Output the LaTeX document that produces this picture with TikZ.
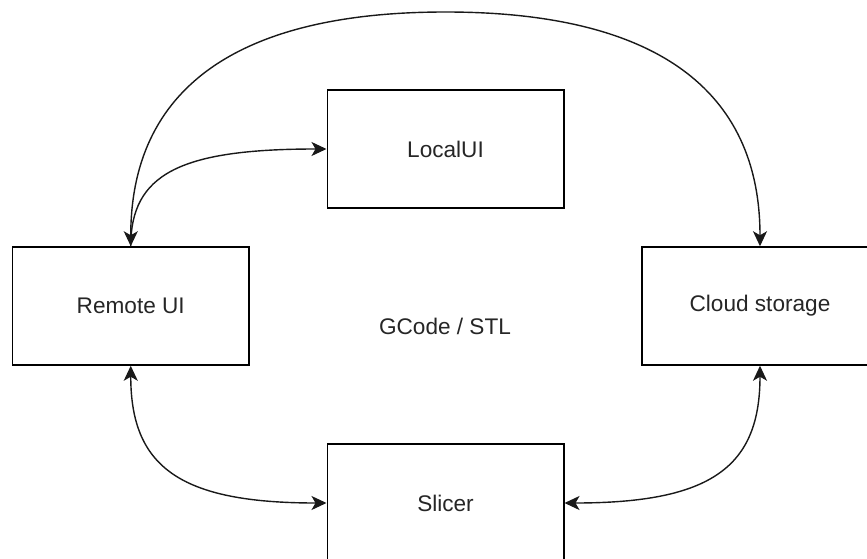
\documentclass[tikz,border=0pt]{standalone}
\usepackage{fontspec}
\setmainfont{Liberation Sans}
\usetikzlibrary{arrows.meta}

\begin{document}
\begin{tikzpicture}[x=1pt, y=-1pt,
  box/.style={draw=black, line width=1.5pt, minimum width=236.5pt, minimum height=118pt,
              inner sep=0pt, font=\fontsize{22.6}{27}\selectfont, text=black!85},
  conn/.style={line width=1.4pt, draw=black!90},
  tip/.tip={Stealth[length=15pt, width=14pt, inset=4pt]},
  lbl/.style={font=\fontsize{22.6}{27}\selectfont, text=black!85}]

  % page area
  \fill[white] (0,0) rectangle (867,559);
  \useasboundingbox (0,0) rectangle (867,559);

  % components
  \node[box] (local)  at (445.5,149) {LocalUI};
  \node[box] (remote) at (130.75,306) {Remote UI};
  \node[box] (cloud)  at (760,306) {Cloud storage};
  \node[box] (slicer) at (445.5,503) {Slicer};

  \node[lbl] (data) at (445,326) {GCode / STL};

  % highest point of the arc between Remote UI and Cloud storage
  \coordinate (apex) at (445.5,12);

  % links
  \draw[conn, tip-tip] (remote.north)
      .. controls +(0,-156.7) and +(-209.7,0) .. (apex)
      .. controls +(209.7,0) and +(0,-156.7) .. (cloud.north);
  \draw[conn, -tip] (remote.north)
      .. controls +(0,-72) and +(-147,0) .. (local.west);
  \draw[conn, tip-tip] (remote.south)
      .. controls +(0,101) and +(-147,0) .. (slicer.west);
  \draw[conn, tip-tip] (cloud.south)
      .. controls +(0,101) and +(147,0) .. (slicer.east);
\end{tikzpicture}
\end{document}
